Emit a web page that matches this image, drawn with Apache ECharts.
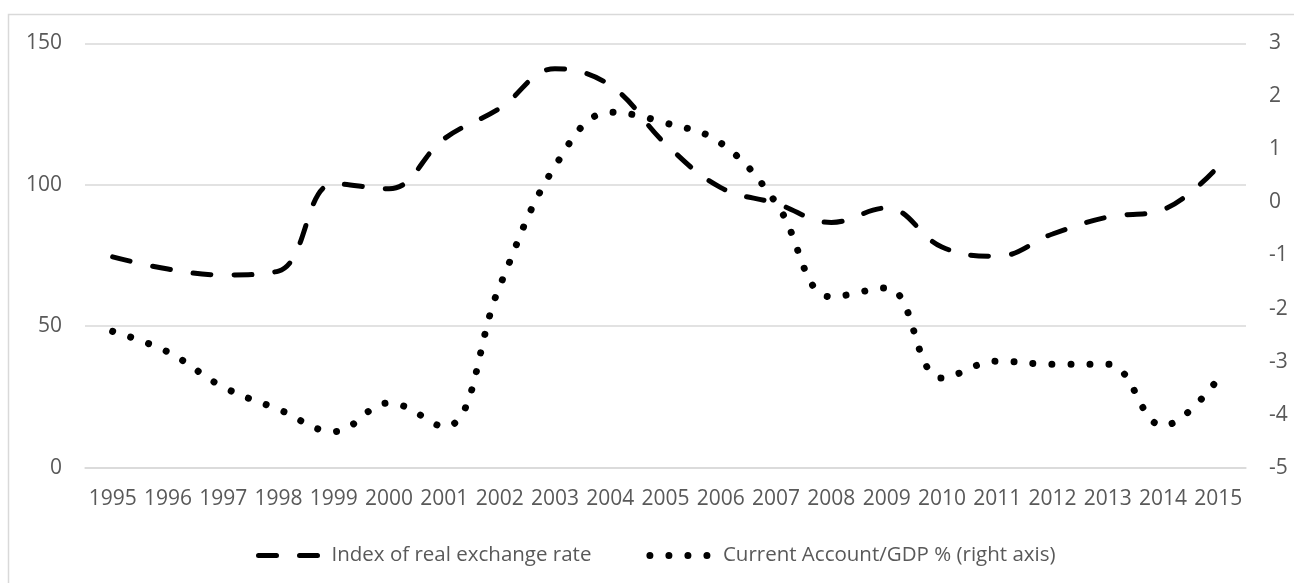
<!DOCTYPE html>
<html lang="en">
<head>
    <meta charset="UTF-8">
    <title>Real exchange rate and current account</title>
    <script type="text/javascript" src="https://cdn.jsdelivr.net/npm/echarts@6/dist/echarts.min.js"></script>
    <style>
        html, body { margin: 0; padding: 0; background: #fff; }
    </style>
</head>
<body>
<div id="main" style="width: 1294px;height:583px;"></div>
<script>
    // values
    var years = ['1995', '1996', '1997', '1998', '1999', '2000', '2001', '2002', '2003', '2004', '2005',
        '2006', '2007', '2008', '2009', '2010', '2011', '2012', '2013', '2014', '2015'];
    var exchangeRate = [74.5, 70.2, 68.1, 69.5, 100.4, 98.6, 116.3, 127, 141, 135.1, 114.5,
        99, 93.4, 86.7, 91.8, 78, 74.7, 82.6, 88.6, 91.2, 106.5];
    var currentAccount = [-2.43, -2.82, -3.48, -3.9, -4.32, -3.78, -4.23, -1.58, 0.68, 1.7, 1.5,
        1.12, -0.01, -1.78, -1.61, -3.31, -2.99, -3.05, -3.05, -4.21, -3.32];
    var leftTicks = {min: 0, max: 150, interval: 50};
    var rightTicks = {min: -5, max: 3, interval: 1};

    var labelColor = '#595959';
    var gridColor = '#d9d9d9';
    var font = '"Open Sans", "Noto Sans", sans-serif';

    var dashStyle = {color: '#000', width: 5, type: [18, 23], cap: 'round'};
    var dotStyle = {color: '#000', width: 7, type: [0.01, 19], cap: 'round'};

    var myChart = echarts.init(document.getElementById('main'));
    var option = {
        animation: false,
        textStyle: {fontFamily: font},
        graphic: [{
            type: 'rect',
            shape: {x: 8.5, y: 14.5, width: 1400, height: 700},
            style: {fill: 'none', stroke: gridColor, lineWidth: 1.5},
            silent: true
        }],
        grid: {
            left: 85,
            right: 48,
            top: 43.3,
            bottom: 115.3
        },
        legend: {
            left: 251,
            top: 540,
            itemWidth: 66,
            itemHeight: 14,
            itemGap: 55,
            textStyle: {
                fontFamily: font,
                fontSize: 20.5,
                color: labelColor,
                padding: [0, 0, 0, 2]
            },
            data: [{
                name: 'Index of real exchange rate',
                itemStyle: {opacity: 0},
                lineStyle: dashStyle
            }, {
                name: 'Current Account/GDP % (right axis)',
                itemStyle: {opacity: 0},
                lineStyle: dotStyle
            }]
        },
        xAxis: {
            type: 'category',
            data: years,
            boundaryGap: true,
            axisLine: {lineStyle: {color: gridColor, width: 1.5}},
            axisTick: {show: false},
            axisLabel: {
                interval: 0,
                margin: 21,
                fontFamily: font,
                fontSize: 21,
                color: labelColor
            }
        },
        yAxis: [{
            type: 'value',
            min: leftTicks.min,
            max: leftTicks.max,
            interval: leftTicks.interval,
            axisLine: {show: false},
            axisTick: {show: false},
            splitLine: {lineStyle: {color: gridColor, width: 1.5}},
            axisLabel: {margin: 23, fontFamily: font, fontSize: 21, color: labelColor}
        }, {
            type: 'value',
            min: rightTicks.min,
            max: rightTicks.max,
            interval: rightTicks.interval,
            axisLine: {show: false},
            axisTick: {show: false},
            splitLine: {show: false},
            axisLabel: {margin: 23, fontFamily: font, fontSize: 21, color: labelColor}
        }],
        series: [{
            name: 'Index of real exchange rate',
            type: 'line',
            yAxisIndex: 0,
            data: exchangeRate,
            smooth: 0.4,
            symbol: 'none',
            lineStyle: dashStyle,
            itemStyle: {color: '#000'}
        }, {
            name: 'Current Account/GDP % (right axis)',
            type: 'line',
            yAxisIndex: 1,
            data: currentAccount,
            smooth: 0.4,
            symbol: 'none',
            lineStyle: dotStyle,
            itemStyle: {color: '#000'}
        }]
    };
    myChart.setOption(option);
</script>
</body>
</html>
